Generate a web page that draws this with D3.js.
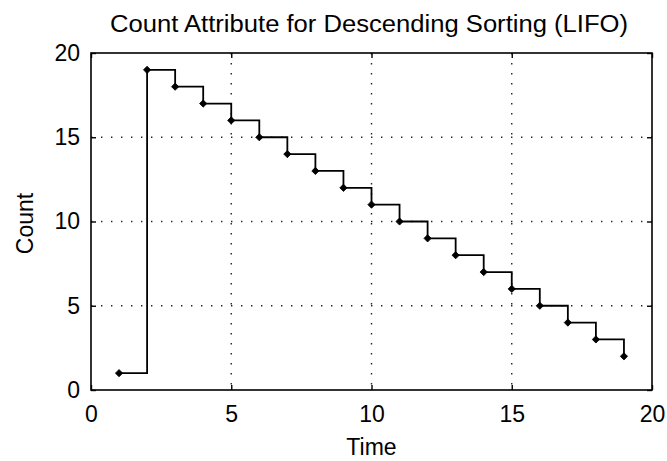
<!DOCTYPE html>
<html>
<head>
<meta charset="utf-8">
<script src="https://cdn.jsdelivr.net/npm/d3@7/dist/d3.min.js"></script>
<style>
  html, body { margin: 0; padding: 0; background: #fff; }
  svg { display: block; }
  text { font-family: "Liberation Sans", Arial, sans-serif; fill: #000; }
</style>
</head>
<body>
<svg id="chart" width="667" height="461"></svg>
<script>
// ---- data ----
const times = [1, 2, 3, 4, 5, 6, 7, 8, 9, 10, 11, 12, 13, 14, 15, 16, 17, 18, 19];
const counts = [1, 19, 18, 17, 16, 15, 14, 13, 12, 11, 10, 9, 8, 7, 6, 5, 4, 3, 2];
const xTicks = [0, 5, 10, 15, 20];
const yTicks = [0, 5, 10, 15, 20];
const titleText = "Count Attribute for Descending Sorting (LIFO)";
const xLabel = "Time";
const yLabel = "Count";

// ---- layout ----
const W = 667, H = 461;
const L = 91, R = 652, T = 53, B = 390;
const svg = d3.select("#chart");

const x = d3.scaleLinear().domain([0, 20]).range([L, R]);
const y = d3.scaleLinear().domain([0, 20]).range([B, T]);

// grid (dotted) at inner ticks
const gridG = svg.append("g");
xTicks.filter(t => t > 0 && t < 20).forEach(t => {
  gridG.append("line")
    .attr("x1", x(t)).attr("x2", x(t)).attr("y1", T).attr("y2", B)
    .attr("stroke", "#222").attr("stroke-width", 1.4)
    .attr("stroke-dasharray", "1.4,8.6");
});
yTicks.filter(t => t > 0 && t < 20).forEach(t => {
  gridG.append("line")
    .attr("x1", L).attr("x2", R).attr("y1", y(t)).attr("y2", y(t))
    .attr("stroke", "#222").attr("stroke-width", 1.4)
    .attr("stroke-dasharray", "1.4,8.6");
});

// axes with inward ticks on all sides
const tickLen = 5;
const axB = d3.axisBottom(x).tickValues(xTicks).tickSizeInner(-tickLen).tickSizeOuter(0).tickPadding(16);
const axT = d3.axisTop(x).tickValues(xTicks).tickSizeInner(-tickLen).tickSizeOuter(0).tickFormat("");
const axL = d3.axisLeft(y).tickValues(yTicks).tickSizeInner(-tickLen).tickSizeOuter(0).tickPadding(11);
const axR = d3.axisRight(y).tickValues(yTicks).tickSizeInner(-tickLen).tickSizeOuter(0).tickFormat("");

function styleAxis(g) {
  g.select(".domain").remove();
  g.selectAll(".tick line").attr("stroke", "#000").attr("stroke-width", 1.4);
  g.selectAll(".tick text").attr("font-size", 23).attr("font-family", "Liberation Sans, Arial, sans-serif").attr("fill", "#000");
}
svg.append("g").attr("transform", `translate(0,${B})`).call(axB).call(styleAxis);
svg.append("g").attr("transform", `translate(0,${T})`).call(axT).call(styleAxis);
svg.append("g").attr("transform", `translate(${L},0)`).call(axL).call(styleAxis);
svg.append("g").attr("transform", `translate(${R},0)`).call(axR).call(styleAxis);

// box
svg.append("rect")
  .attr("x", L).attr("y", T).attr("width", R - L).attr("height", B - T)
  .attr("fill", "none").attr("stroke", "#000").attr("stroke-width", 1.6);

// stairs line
const pts = times.map((t, i) => [t, counts[i]]);
const line = d3.line().x(d => x(d[0])).y(d => y(d[1])).curve(d3.curveStepAfter);
svg.append("path").datum(pts)
  .attr("d", line)
  .attr("fill", "none").attr("stroke", "#000").attr("stroke-width", 1.8);

// diamond markers (square rotated 45deg)
const sym = d3.symbol().type(d3.symbolSquare).size(26);
svg.append("g").selectAll("path").data(pts).join("path")
  .attr("d", sym)
  .attr("transform", d => `translate(${x(d[0])},${y(d[1])}) rotate(45)`)
  .attr("fill", "#000").attr("stroke", "#000").attr("stroke-width", 0.8);

// title
svg.append("text")
  .attr("x", (110 + 628) / 2).attr("y", 32)
  .attr("text-anchor", "middle").attr("font-size", 23)
  .attr("textLength", 518).attr("lengthAdjust", "spacingAndGlyphs")
  .text(titleText);

// x label
svg.append("text")
  .attr("x", (L + R) / 2).attr("y", 455)
  .attr("text-anchor", "middle").attr("font-size", 23)
  .text(xLabel);

// y label
svg.append("text")
  .attr("transform", `translate(33,${(T + B) / 2 + 2}) rotate(-90)`)
  .attr("text-anchor", "middle").attr("font-size", 23)
  .text(yLabel);
</script>
</body>
</html>
